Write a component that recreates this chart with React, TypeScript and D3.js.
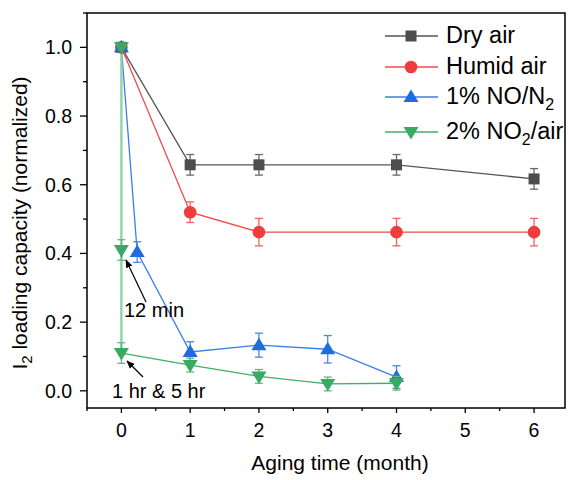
import React from 'react';
import * as d3 from 'd3';

// data
const dryX = [0, 1, 2, 4, 6];
const dryY = [1.0, 0.658, 0.658, 0.658, 0.617];
const dryErr = [0, 0.03, 0.03, 0.03, 0.03];

const humidX = [0, 1, 2, 4, 6];
const humidY = [1.0, 0.52, 0.462, 0.462, 0.462];
const humidErr = [0, 0.03, 0.04, 0.04, 0.04];

const noX = [0, 0.23, 1, 2, 3, 4];
const noY = [1.0, 0.404, 0.113, 0.133, 0.121, 0.04];
const noErr = [0, 0.03, 0.03, 0.035, 0.04, 0.033];

const no2X = [0, 0, 0, 1, 2, 3, 4];
const no2Y = [1.0, 0.41, 0.11, 0.075, 0.042, 0.02, 0.022];
const no2Err = [0, 0.03, 0.03, 0.02, 0.02, 0.02, 0.02];

const xTicks = [0, 1, 2, 3, 4, 5, 6];
const yTicks = [0, 0.2, 0.4, 0.6, 0.8, 1.0];

const W = 569, H = 480;
const box = { left: 87, right: 565, top: 13, bottom: 408 };
const font = "'Liberation Sans', Arial, sans-serif";

const x = d3.scaleLinear().domain([-0.5, 6.45]).range([box.left, box.right]);
const y = d3.scaleLinear().domain([-0.05, 1.1]).range([box.bottom, box.top]);

type Series = { xs: number[]; ys: number[]; err: number[]; color: string; line: string; errColor: string; shape: string };

const series: Series[] = [
    { xs: dryX, ys: dryY, err: dryErr, color: '#4d4d4d', line: '#555555', errColor: '#6a6a6a', shape: 'square' },
    { xs: humidX, ys: humidY, err: humidErr, color: '#f03c3c', line: '#f24a4a', errColor: '#f26060', shape: 'circle' },
    { xs: noX, ys: noY, err: noErr, color: '#1f6be0', line: '#3a7fe6', errColor: '#4a88e6', shape: 'up' },
    { xs: no2X, ys: no2Y, err: no2Err, color: '#38aa63', line: '#40ae68', errColor: '#5cbc80', shape: 'down' },
];

const Marker = ({ shape, cx, cy, color }: { shape: string; cx: number; cy: number; color: string }) => {
    if (shape === 'square') return <rect x={cx - 5.5} y={cy - 5.5} width={11} height={11} fill={color} />;
    if (shape === 'circle') return <circle cx={cx} cy={cy} r={6.3} fill={color} />;
    if (shape === 'up') return <path d={`M${cx},${cy - 7.5}L${cx + 7.5},${cy + 5}L${cx - 7.5},${cy + 5}Z`} fill={color} />;
    return <path d={`M${cx},${cy + 7.5}L${cx + 7.5},${cy - 5}L${cx - 7.5},${cy - 5}Z`} fill={color} />;
};

const legendItems = [
    { label: <>Dry air</>, s: series[0] },
    { label: <>Humid air</>, s: series[1] },
    { label: <>1% NO/N<tspan fontSize={16} dy={6}>2</tspan></>, s: series[2] },
    { label: <>2% NO<tspan fontSize={16} dy={6}>2</tspan><tspan dy={-6}>/air</tspan></>, s: series[3] },
];
const legendY = [36, 67, 97, 132];

const App = () => {
    const line = d3.line<[number, number]>().x(d => x(d[0])).y(d => y(d[1]));
    const minorX = d3.range(-0.5, 6.45, 0.5).filter(v => !xTicks.includes(v));
    const minorY = d3.range(-0.05, 1.1, 0.1).map(v => Math.round(v * 10) / 10).filter(v => v >= 0 && v <= 1.1 && !yTicks.some(t => Math.abs(t - v) < 1e-6));

    return (
        <svg width={W} height={H} style={{ position: 'absolute', left: 0, top: 0, fontFamily: font }}>
            <rect width={W} height={H} fill="#fff" />
            {/* lines */}
            {series.map((s, i) => {
                const pts = s.xs.map((v, j) => [v, s.ys[j]] as [number, number]);
                if (s.shape === 'down') {
                    return (
                        <g key={i}>
                            <path d={line(pts.slice(0, 3)) || ''} fill="none" stroke="#8fd3a8" strokeWidth={2.4} />
                            <path d={line(pts.slice(2)) || ''} fill="none" stroke={s.line} strokeWidth={1.3} />
                        </g>
                    );
                }
                return <path key={i} d={line(pts) || ''} fill="none" stroke={s.line} strokeWidth={1.3} />;
            })}
            {/* error bars and markers */}
            {series.map((s, i) => (
                <g key={i}>
                    {s.xs.map((v, j) => s.err[j] > 0 && (
                        <g key={j} stroke={s.errColor} strokeWidth={1.3}>
                            <line x1={x(v)} x2={x(v)} y1={y(s.ys[j] + s.err[j])} y2={y(s.ys[j] - s.err[j])} />
                            <line x1={x(v) - 4} x2={x(v) + 4} y1={y(s.ys[j] + s.err[j])} y2={y(s.ys[j] + s.err[j])} />
                            <line x1={x(v) - 4} x2={x(v) + 4} y1={y(s.ys[j] - s.err[j])} y2={y(s.ys[j] - s.err[j])} />
                        </g>
                    ))}
                    {s.xs.map((v, j) => <Marker key={j} shape={s.shape} cx={x(v)} cy={y(s.ys[j])} color={s.color} />)}
                </g>
            ))}
            {/* frame */}
            <rect x={box.left} y={box.top} width={box.right - box.left} height={box.bottom - box.top} fill="none" stroke="#000" strokeWidth={1.5} />
            {/* x axis ticks */}
            {xTicks.map(t => (
                <g key={t}>
                    <line x1={x(t)} x2={x(t)} y1={box.bottom} y2={box.bottom + 5} stroke="#000" strokeWidth={1.3} />
                    <text x={x(t)} y={437} fontSize={19.5} textAnchor="middle">{t}</text>
                </g>
            ))}
            {minorX.map(t => <line key={t} x1={x(t)} x2={x(t)} y1={box.bottom} y2={box.bottom + 3} stroke="#000" strokeWidth={1.3} />)}
            {/* y axis ticks */}
            {yTicks.map(t => (
                <g key={t}>
                    <line x1={box.left - 7} x2={box.left} y1={y(t)} y2={y(t)} stroke="#000" strokeWidth={1.3} />
                    <text x={72} y={y(t)} dy="0.36em" fontSize={19.5} textAnchor="end">{t.toFixed(1)}</text>
                </g>
            ))}
            {minorY.map(t => <line key={t} x1={box.left - 4} x2={box.left} y1={y(t)} y2={y(t)} stroke="#000" strokeWidth={1.3} />)}
            {/* axis titles */}
            <text x={340} y={470} fontSize={21} textAnchor="middle">Aging time (month)</text>
            <text transform={`translate(27,223) rotate(-90)`} fontSize={21} textAnchor="middle">
                I<tspan fontSize={15} dy={5}>2</tspan><tspan dy={-5}> loading capacity (normalized)</tspan>
            </text>
            {/* annotations */}
            <defs>
                <marker id="arr" viewBox="0 0 10 10" refX={9} refY={5} markerWidth={7} markerHeight={7} orient="auto">
                    <path d="M0,1L10,5L0,9Z" fill="#000" />
                </marker>
            </defs>
            <line x1={146} y1={302} x2={126} y2={260} stroke="#000" strokeWidth={1.2} markerEnd="url(#arr)" />
            <text x={124} y={317} fontSize={20}>12 min</text>
            <line x1={143} y1={377} x2={127} y2={361} stroke="#000" strokeWidth={1.2} markerEnd="url(#arr)" />
            <text x={112} y={398} fontSize={20}>1 hr &amp; 5 hr</text>
            {/* legend */}
            {legendItems.map((it, i) => (
                <g key={i}>
                    <line x1={385} x2={438} y1={legendY[i]} y2={legendY[i]} stroke={it.s.line} strokeWidth={1.3} />
                    <Marker shape={it.s.shape} cx={411} cy={legendY[i]} color={it.s.color} />
                    <text x={446} y={legendY[i]} dy="0.3em" fontSize={23.5}>{it.label}</text>
                </g>
            ))}
        </svg>
    );
};

export default App;
